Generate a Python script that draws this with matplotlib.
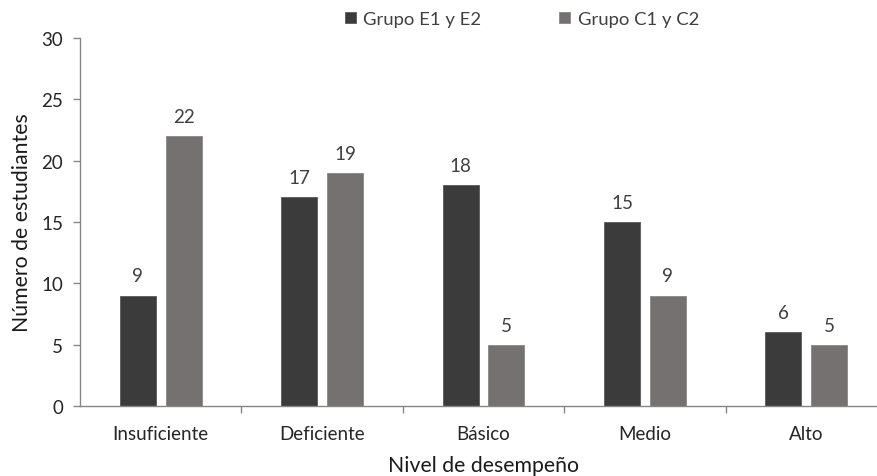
import matplotlib
matplotlib.use("Agg")
import matplotlib.pyplot as plt
import numpy as np

categories = ["Insuficiente", "Deficiente", "Básico", "Medio", "Alto"]
grupo_e = [9, 17, 18, 15, 6]
grupo_c = [22, 19, 5, 9, 5]
series_names = ["Grupo E1 y E2", "Grupo C1 y C2"]

plt.rcParams['font.family'] = ['Lato', 'DejaVu Sans']
text_color = "#404040"
axis_color = "#868686"

fig = plt.figure(figsize=(8.78, 4.77), dpi=100)
W, H = 878, 477
ax = fig.add_axes([80 / W, 1 - 407 / H, 807 / W, (407 - 39) / H])

x = np.arange(len(categories))
bw = 0.224
off = 0.142
b1 = ax.bar(x - off, grupo_e, bw, color="#3b3b3b", edgecolor="#5a5a5a", linewidth=0.6, label=series_names[0])
b2 = ax.bar(x + off, grupo_c, bw, color="#767171", edgecolor="#8a8686", linewidth=0.6, label=series_names[1])

for bars, vals in ((b1, grupo_e), (b2, grupo_c)):
    for r, v in zip(bars, vals):
        ax.annotate(str(v), (r.get_x() + r.get_width() / 2, v), xytext=(0, 8),
                    textcoords="offset points", ha="center", va="bottom",
                    fontsize=13.5, color=text_color)

ax.set_xlim(-0.5, len(categories) - 0.5)
ax.set_ylim(0, 30)
ax.set_yticks(range(0, 31, 5))
ax.set_xticks(x)
ax.set_xticklabels(categories)
ax.set_xticks(np.arange(0.5, len(categories) - 0.5, 1), minor=True)
ax.tick_params(axis="x", which="major", length=0, pad=14, labelsize=13.5, labelcolor="#262626")
ax.tick_params(axis="x", which="minor", length=5, color=axis_color, width=1)
ax.tick_params(axis="y", length=5, color=axis_color, width=1, labelsize=13.5, labelcolor="#262626", pad=7)

for s in ("top", "right"):
    ax.spines[s].set_visible(False)
for s in ("left", "bottom"):
    ax.spines[s].set_color(axis_color)
    ax.spines[s].set_linewidth(1)

ax.set_ylabel("Número de estudiantes", fontsize=15.3, color="#1a1a1a", labelpad=7)
ax.set_xlabel("Nivel de desempeño", fontsize=15.3, color="#1a1a1a", labelpad=9)

leg = fig.legend(handles=[b1, b2], loc="center", bbox_to_anchor=(522 / W, 1 - 20 / H),
                 ncol=2, frameon=False, fontsize=13.3, handlelength=0.6, handleheight=0.6,
                 columnspacing=4.2, handletextpad=0.4)
for t in leg.get_texts():
    t.set_color(text_color)

fig.savefig("out.png", dpi=100)
